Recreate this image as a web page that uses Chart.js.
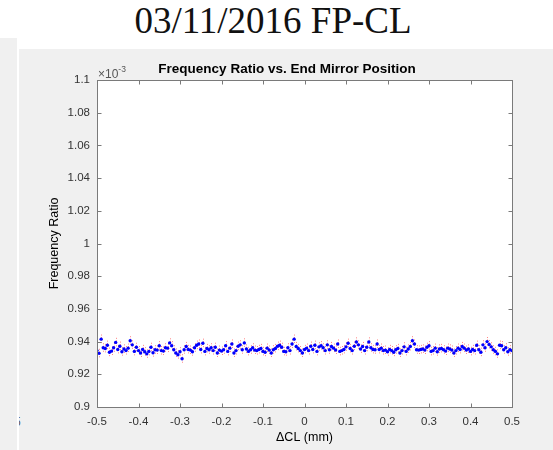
<!DOCTYPE html>
<html>
<head>
<meta charset="utf-8">
<script src="https://cdn.jsdelivr.net/npm/chart.js@4/dist/chart.umd.min.js"></script>
<style>
  html, body { margin: 0; padding: 0; background: #fff; }
  body { width: 553px; height: 450px; position: relative; overflow: hidden; }
  #slideTitle { position: absolute; left: 0; top: 2px; width: 546px; text-align: center;
    font-family: "Liberation Serif", "Times New Roman", serif; font-size: 37px; line-height: 37px; color: #111; }
  #leftStrip { position: absolute; left: 0; top: 38px; width: 17px; height: 412px; background: #f0f0f0; }
  #figPanel { position: absolute; left: 19px; top: 49px; width: 534px; height: 401px; background: #f0f0f0; overflow: hidden; }
  #stray { position: absolute; left: -5px; top: 366px; font: 12px "Liberation Sans", Arial, sans-serif; color: #555; }
  #wrap { position: absolute; left: 0; top: 0; width: 553px; height: 450px; }
</style>
</head>
<body>
<div id="slideTitle">03/11/2016 FP-CL</div>
<div id="leftStrip"></div>
<div id="figPanel"><span id="stray">5</span></div>
<div id="wrap"><canvas id="ratioChart" width="553" height="450"></canvas></div>

<script>
// --- DATA ---

const chartTitle = 'Frequency Ratio vs. End Mirror Position';
const xLabel = '\u0394CL (mm)';
const yLabel = 'Frequency Ratio';
const yExponent = '-3';

const xTicks = [-0.5, -0.4, -0.3, -0.2, -0.1, 0, 0.1, 0.2, 0.3, 0.4, 0.5];
const yTicks = [0.9, 0.92, 0.94, 0.96, 0.98, 1, 1.02, 1.04, 1.06, 1.08, 1.1];

const xStart = -0.5;
const xStep = 0.005;

// frequency ratio (x 10^-3), one value per mirror step
const ratio = [
  0.9345, 0.9328, 0.9415, 0.9362, 0.9358, 0.9378, 0.9335, 0.9342, 0.9362, 0.9395, 0.9352,
  0.9372, 0.9338, 0.9355, 0.9345, 0.9360, 0.9405, 0.9380, 0.9340, 0.9365, 0.9345,
  0.9330, 0.9352, 0.9338, 0.9325, 0.9340, 0.9365, 0.9332, 0.9350, 0.9348, 0.9375,
  0.9345, 0.9342, 0.9362, 0.9360, 0.9392, 0.9375, 0.9350, 0.9330, 0.9320, 0.9338,
  0.9295, 0.9350, 0.9370, 0.9352, 0.9348, 0.9338, 0.9362, 0.9378, 0.9385, 0.9352,
  0.9390, 0.9340, 0.9358, 0.9350, 0.9362, 0.9345, 0.9365, 0.9330, 0.9348, 0.9342,
  0.9350, 0.9375, 0.9340, 0.9360, 0.9385, 0.9330, 0.9345, 0.9372, 0.9380, 0.9350,
  0.9392, 0.9355, 0.9340, 0.9350, 0.9362, 0.9348, 0.9345, 0.9352, 0.9358, 0.9340,
  0.9335, 0.9360, 0.9348, 0.9330, 0.9350, 0.9358, 0.9372, 0.9378, 0.9365, 0.9340,
  0.9338, 0.9362, 0.9345, 0.9385, 0.9415, 0.9370, 0.9358, 0.9345, 0.9330, 0.9352,
  0.9360, 0.9345, 0.9372, 0.9352, 0.9378, 0.9340, 0.9368, 0.9375, 0.9362, 0.9345,
  0.9380, 0.9350, 0.9370, 0.9360, 0.9348, 0.9385, 0.9340, 0.9345, 0.9352, 0.9368,
  0.9390, 0.9358, 0.9345, 0.9372, 0.9398, 0.9380, 0.9355, 0.9370, 0.9345, 0.9365,
  0.9398, 0.9362, 0.9352, 0.9350, 0.9385, 0.9352, 0.9360, 0.9345, 0.9348, 0.9338,
  0.9352, 0.9345, 0.9335, 0.9350, 0.9358, 0.9330, 0.9345, 0.9368, 0.9340, 0.9355,
  0.9370, 0.9405, 0.9385, 0.9350, 0.9348, 0.9352, 0.9355, 0.9348, 0.9365, 0.9375,
  0.9340, 0.9345, 0.9360, 0.9338, 0.9355, 0.9358, 0.9350, 0.9342, 0.9360, 0.9355,
  0.9348, 0.9330, 0.9345, 0.9360, 0.9352, 0.9370, 0.9360, 0.9348, 0.9355, 0.9340,
  0.9352, 0.9345, 0.9378, 0.9350, 0.9335, 0.9380, 0.9362, 0.9400, 0.9382, 0.9368,
  0.9350, 0.9340, 0.9325, 0.9378, 0.9375, 0.9350, 0.9362, 0.9338, 0.9350, 0.9345
];

// half height of the red error marks (same units as ratio)
const ratioErr = 0.0028;

// --- CHART ---

const points = ratio.map((v, i) => ({ x: +(xStart + i * xStep).toFixed(3), y: v }));

const tickFont = { family: '"Liberation Sans", Arial, sans-serif', size: 11.5 };
const labelFont = { family: '"Liberation Sans", Arial, sans-serif', size: 12.5 };
const axisColor = '#7a7a7a';
const textColor = '#333';

function fmt(v) {
  return String(+Number(v).toFixed(2));
}

const matlabLook = {
  id: 'matlabLook',
  beforeDraw(chart) {
    const { ctx, chartArea: a } = chart;
    ctx.save();
    ctx.fillStyle = '#fff';
    ctx.fillRect(a.left, a.top, a.right - a.left, a.bottom - a.top);
    ctx.restore();
  },
  beforeDatasetsDraw(chart) {
    // red dotted error marks under the blue dots
    const { ctx, scales: { x, y } } = chart;
    ctx.save();
    ctx.strokeStyle = 'rgba(255, 30, 30, 0.55)';
    ctx.lineWidth = 1;
    ctx.setLineDash([1, 1.5]);
    points.forEach(p => {
      const px = Math.round(x.getPixelForValue(p.x)) + 0.5;
      ctx.beginPath();
      ctx.moveTo(px, y.getPixelForValue(p.y + ratioErr));
      ctx.lineTo(px, y.getPixelForValue(p.y - ratioErr));
      ctx.stroke();
    });
    ctx.restore();
  },
  afterDraw(chart) {
    const { ctx, chartArea: a, scales: { x, y } } = chart;
    const L = Math.round(a.left) + 0.5, R = Math.round(a.right) + 0.5;
    const T = Math.round(a.top) + 0.5, B = Math.round(a.bottom) + 0.5;
    ctx.save();
    ctx.strokeStyle = axisColor;
    ctx.lineWidth = 1;
    ctx.strokeRect(L, T, R - L, B - T);

    // inward ticks on all four sides
    ctx.beginPath();
    xTicks.forEach(v => {
      const px = Math.round(x.getPixelForValue(v)) + 0.5;
      ctx.moveTo(px, B); ctx.lineTo(px, B - 4);
      ctx.moveTo(px, T); ctx.lineTo(px, T + 4);
    });
    yTicks.forEach(v => {
      const py = Math.round(y.getPixelForValue(v)) + 0.5;
      ctx.moveTo(L, py); ctx.lineTo(L + 4, py);
      ctx.moveTo(R, py); ctx.lineTo(R - 4, py);
    });
    ctx.stroke();

    // axes title
    ctx.fillStyle = '#000';
    ctx.font = 'bold 13.5px "Liberation Sans", Arial, sans-serif';
    ctx.textAlign = 'center';
    ctx.textBaseline = 'alphabetic';
    ctx.fillText(chartTitle, 287, 73);

    // exponent label
    ctx.fillStyle = '#555';
    ctx.textAlign = 'left';
    ctx.font = '12px "Liberation Sans", Arial, sans-serif';
    ctx.fillText('\u00d710', a.left + 1, 78);
    const w = ctx.measureText('\u00d710').width;
    ctx.font = '8.5px "Liberation Sans", Arial, sans-serif';
    ctx.fillText(yExponent, a.left + 1 + w, 72);
    ctx.restore();
  }
};

const ctx = document.getElementById('ratioChart').getContext('2d');

const ratioChart = new Chart(ctx, {
  type: 'scatter',
  data: {
    datasets: [{
      label: 'Frequency Ratio',
      data: points,
      backgroundColor: '#0000ff',
      borderWidth: 0,
      pointRadius: 1.7,
      pointHoverRadius: 1.7
    }]
  },
  options: {
    responsive: false,
    animation: false,
    events: [],
    layout: { padding: { left: 0, top: 80, right: 41, bottom: 0 } },
    plugins: {
      legend: { display: false },
      title: { display: false },
      tooltip: { enabled: false }
    },
    scales: {
      x: {
        type: 'linear',
        min: -0.5,
        max: 0.5,
        afterBuildTicks(axis) { axis.ticks = xTicks.map(v => ({ value: v })); },
        afterFit(axis) { axis.height = 43; },
        grid: { display: false, drawTicks: false },
        border: { display: false },
        ticks: { font: tickFont, color: textColor, padding: 8, maxRotation: 0, autoSkip: false, callback: fmt },
        title: { display: true, text: xLabel, font: labelFont, color: '#000', padding: { top: 0, bottom: 5 } }
      },
      y: {
        type: 'linear',
        min: 0.9,
        max: 1.1,
        afterBuildTicks(axis) { axis.ticks = yTicks.map(v => ({ value: v })); },
        afterFit(axis) { axis.width = 97; },
        grid: { display: false, drawTicks: false },
        border: { display: false },
        ticks: { font: tickFont, color: textColor, padding: 7, autoSkip: false, callback: fmt },
        title: { display: true, text: yLabel, font: labelFont, color: '#000', padding: { top: 47, bottom: 0 } }
      }
    }
  },
  plugins: [matlabLook]
});
</script>
</body>
</html>
